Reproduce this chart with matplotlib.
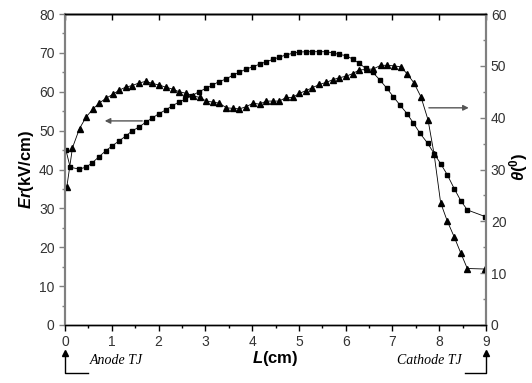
import numpy as np
import matplotlib
matplotlib.use('Agg')
import matplotlib.pyplot as plt
from matplotlib.ticker import MultipleLocator

plt.rcParams['font.family'] = ['Liberation Sans', 'DejaVu Sans']
plt.rcParams['mathtext.fontset'] = 'custom'
plt.rcParams['mathtext.rm'] = 'Liberation Sans'
plt.rcParams['mathtext.it'] = 'Liberation Sans:italic'
plt.rcParams['mathtext.bf'] = 'Liberation Sans:bold'
plt.rcParams['mathtext.bfit'] = 'Liberation Sans:bold:italic'

# Er (squares, left axis)
er_x = [0.02, 0.11, 0.30, 0.45, 0.58, 0.72, 0.87, 1.00, 1.15, 1.30,
        1.43, 1.58, 1.73, 1.86, 2.00, 2.15, 2.28, 2.43, 2.57, 2.72,
        2.86, 3.02, 3.15, 3.29, 3.45, 3.59, 3.73, 3.86, 4.01, 4.16,
        4.30, 4.44, 4.58, 4.73, 4.87, 5.00, 5.15, 5.29, 5.44, 5.58,
        5.72, 5.86, 6.01, 6.15, 6.29, 6.43, 6.58, 6.74, 6.88, 7.02,
        7.16, 7.31, 7.45, 7.59, 7.75, 7.89, 8.03, 8.17, 8.32, 8.46,
        8.60, 8.98]
er_y = [45.0, 40.6, 40.1, 40.6, 41.7, 43.2, 44.8, 46.0, 47.3, 48.6,
        49.9, 50.9, 52.2, 53.2, 54.3, 55.3, 56.3, 57.3, 58.1, 59.0,
        60.0, 60.9, 61.7, 62.6, 63.3, 64.3, 65.0, 65.8, 66.4, 67.1,
        67.7, 68.3, 68.9, 69.5, 69.9, 70.2, 70.3, 70.3, 70.3, 70.3,
        70.0, 69.6, 69.3, 68.4, 67.3, 66.0, 65.0, 62.9, 60.9, 58.7,
        56.6, 54.4, 51.9, 49.3, 46.8, 44.1, 41.5, 38.7, 35.1, 32.0,
        29.6, 27.9]

# theta (triangles, right axis)
th_x = [0.04, 0.16, 0.31, 0.45, 0.59, 0.73, 0.87, 1.02, 1.16, 1.30,
        1.44, 1.58, 1.73, 1.87, 2.01, 2.15, 2.30, 2.44, 2.59, 2.74,
        2.88, 3.02, 3.16, 3.30, 3.45, 3.59, 3.73, 3.87, 4.02, 4.16,
        4.30, 4.44, 4.58, 4.73, 4.87, 5.01, 5.15, 5.29, 5.44, 5.58,
        5.72, 5.86, 6.01, 6.15, 6.29, 6.45, 6.59, 6.75, 6.88, 7.03,
        7.18, 7.32, 7.46, 7.61, 7.76, 7.89, 8.03, 8.17, 8.32, 8.46,
        8.60, 8.98]
th_y = [26.7, 34.2, 37.9, 40.1, 41.6, 42.8, 43.7, 44.5, 45.3, 45.9,
        46.2, 46.7, 47.0, 46.6, 46.3, 45.9, 45.5, 45.0, 44.7, 44.2,
        43.9, 43.2, 43.0, 42.8, 41.9, 41.8, 41.7, 42.1, 42.8, 42.6,
        43.2, 43.2, 43.2, 43.9, 43.9, 44.7, 45.2, 45.8, 46.4, 46.8,
        47.3, 47.7, 48.0, 48.5, 49.2, 49.3, 49.4, 50.1, 50.1, 50.0,
        49.8, 48.4, 46.7, 44.0, 39.6, 33.0, 23.6, 20.1, 17.0, 13.9,
        10.9, 10.8]

fig = plt.figure(figsize=(5.32, 3.83), dpi=100)
ax1 = fig.add_axes([65/532, 58/383, 421/532, 311/383])
ax2 = ax1.twinx()

ax1.plot(er_x, er_y, color='black', lw=0.6, marker='s', ms=2.4, mec='black', mfc='black')
ax2.plot(th_x, th_y, color='black', lw=0.6, marker='^', ms=4.4, mec='black', mfc='black')

ax1.set_xlim(0, 9)
ax1.set_ylim(0, 80)
ax2.set_ylim(0, 60)

grey = '#808080'
ax1.xaxis.set_major_locator(MultipleLocator(1))
ax1.xaxis.set_minor_locator(MultipleLocator(0.5))
ax1.yaxis.set_major_locator(MultipleLocator(10))
ax1.yaxis.set_minor_locator(MultipleLocator(5))
ax2.yaxis.set_major_locator(MultipleLocator(10))
ax2.yaxis.set_minor_locator(MultipleLocator(5))

ax1.tick_params(axis='x', which='major', direction='out', length=4, width=1, labelsize=10,
                labelcolor='#333333')
ax1.tick_params(axis='x', which='minor', direction='out', length=2.5, width=1)
ax1.tick_params(axis='y', which='major', direction='out', length=4, width=1, color=grey,
                labelsize=10, labelcolor='#333333')
ax1.tick_params(axis='y', which='minor', direction='out', length=2.5, width=1, color=grey)
ax2.tick_params(axis='y', which='major', direction='in', length=4, width=1, color=grey,
                labelsize=10, labelcolor='#333333')
ax2.tick_params(axis='y', which='minor', direction='in', length=2.5, width=1, color=grey)

# top axis: inward major ticks only
top = ax1.secondary_xaxis('top')
top.xaxis.set_major_locator(MultipleLocator(1))
top.tick_params(direction='in', length=4, width=1, labeltop=False)
top.spines['top'].set_linewidth(1)

for ax in (ax1, ax2):
    ax.spines['left'].set_color(grey)
    ax.spines['right'].set_color(grey)
    ax.spines['left'].set_linewidth(1.5)
    ax.spines['right'].set_linewidth(1.5)
    ax.spines['top'].set_linewidth(1)
    ax.spines['bottom'].set_linewidth(1)

ax1.set_ylabel(r'$\mathbfit{Er}$(kV/cm)', fontsize=12, fontweight='bold', labelpad=2)
fig.text(519/532, 1 - 167/383, r'$\mathbfit{\theta}\mathbf{(^{0})}$', fontsize=12,
         rotation=90, ha='center', va='center')
fig.text(275/532, 1 - 358/383, r'$\mathbfit{L}$(cm)', fontsize=12, fontweight='bold',
         ha='center', va='center')

# guide arrows
ax1.annotate('', xy=(0.79, 52.5), xytext=(1.71, 52.5),
             arrowprops=dict(arrowstyle='-|>', color='#555555', lw=1, mutation_scale=8))
ax2.annotate('', xy=(8.69, 41.9), xytext=(7.72, 41.9),
             arrowprops=dict(arrowstyle='-|>', color='#555555', lw=1, mutation_scale=8))

# TJ labels under the axis
fig.text(90/532, 1 - 360/383, 'Anode TJ', fontsize=10, style='italic',
         family='Liberation Serif', ha='left', va='center')
fig.text(462/532, 1 - 360/383, 'Cathode TJ', fontsize=10, style='italic',
         family='Liberation Serif', ha='right', va='center')
fig.add_artist(matplotlib.lines.Line2D([65/532, 65/532, 88/532],
                                       [1 - 352/383, 1 - 373/383, 1 - 373/383], color='black', lw=1))
fig.add_artist(matplotlib.lines.Line2D([486/532, 486/532, 465/532],
                                       [1 - 352/383, 1 - 373/383, 1 - 373/383], color='black', lw=1))
fig.add_artist(matplotlib.lines.Line2D([65/532], [1 - 353/383], marker='^', ms=4, color='black'))
fig.add_artist(matplotlib.lines.Line2D([486/532], [1 - 353/383], marker='^', ms=4, color='black'))

fig.savefig('out.png', dpi=100)
